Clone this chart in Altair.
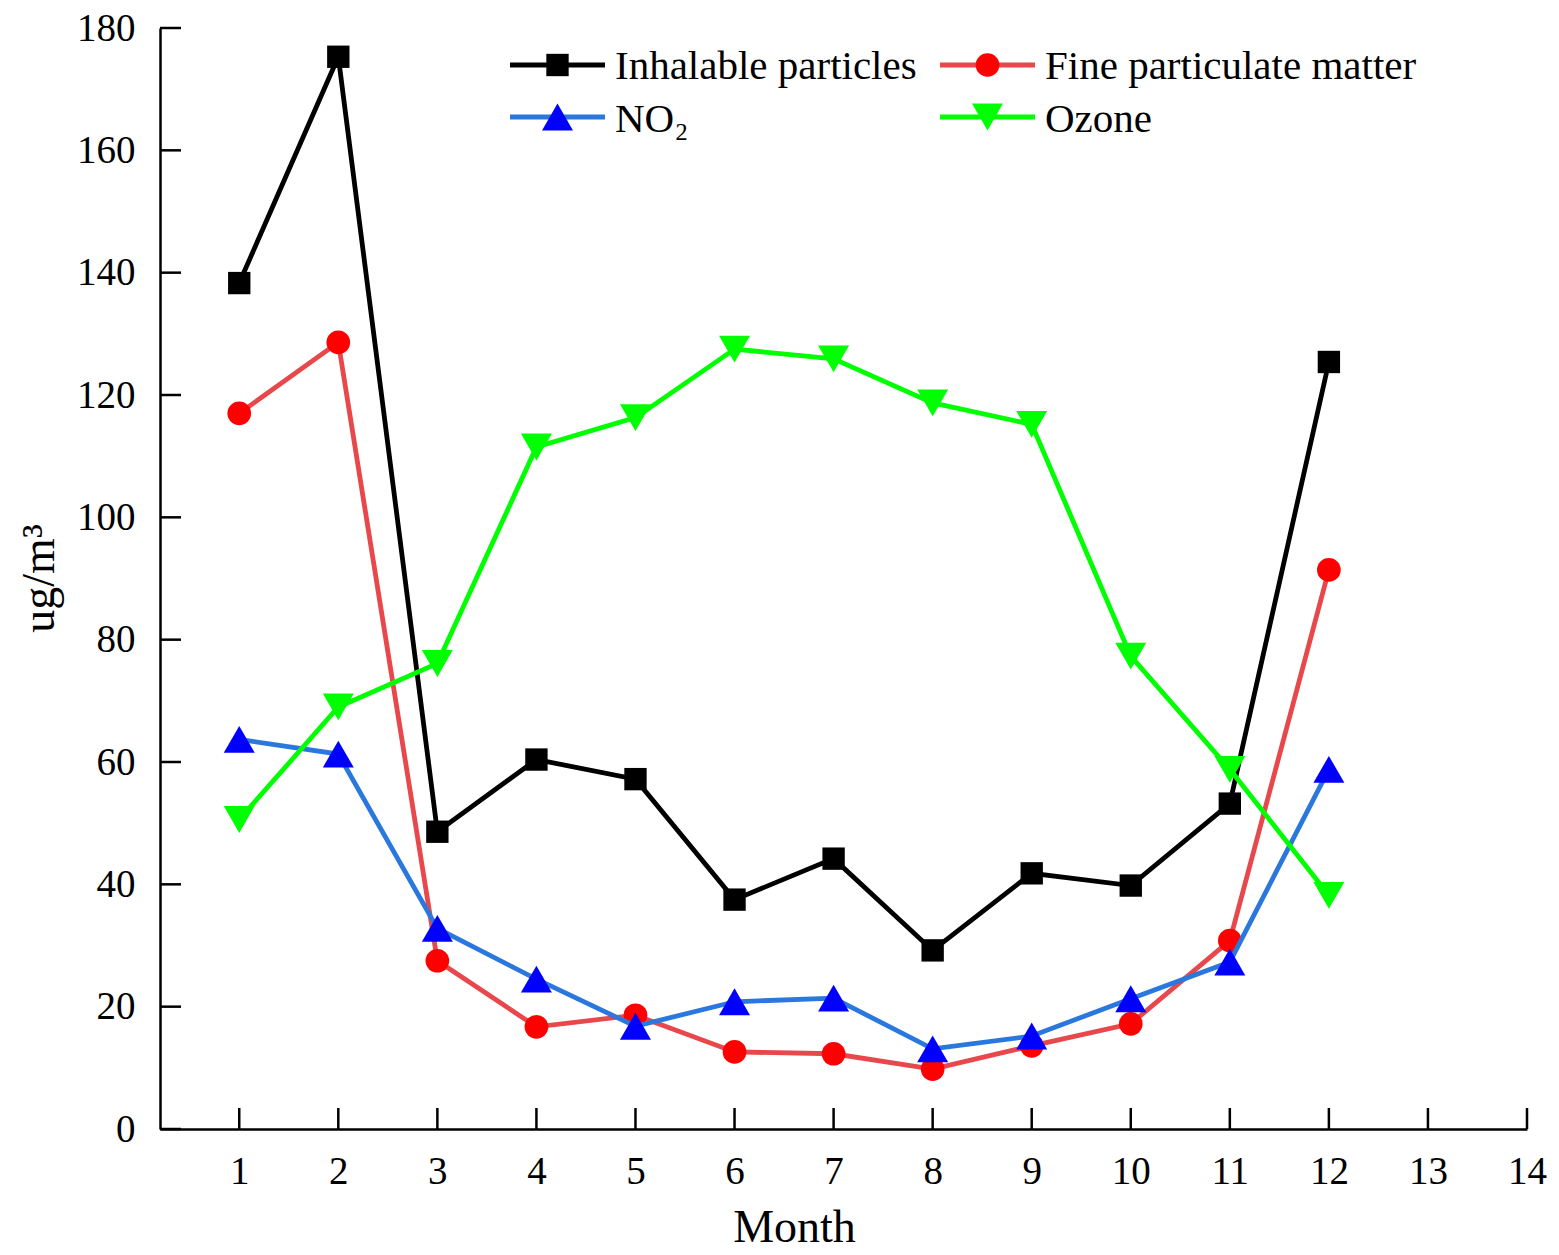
import altair as alt
import pandas as pd

# ---- data ----
months = list(range(1, 13))
inhalable = [138.3, 175.3, 48.6, 60.4, 57.2, 37.5, 44.2, 29.2, 41.8, 39.8, 53.2, 125.4]
fine_pm = [117.0, 128.6, 27.5, 16.7, 18.6, 12.6, 12.3, 9.8, 13.6, 17.2, 30.8, 91.4]
no2 = [63.7, 61.3, 32.8, 24.5, 16.8, 20.8, 21.4, 13.1, 15.2, 21.3, 27.3, 58.8]
ozone = [50.6, 69.0, 76.1, 111.5, 116.3, 127.5, 125.9, 118.7, 115.2, 77.3, 58.8, 38.2]

series_names = ["Inhalable particles", "Fine particulate matter", "NO₂", "Ozone"]
series_values = [inhalable, fine_pm, no2, ozone]
x_ticks = list(range(1, 15))
y_ticks = list(range(0, 181, 20))

# ---- styles ----
line_colors = ["#000000", "#e8474b", "#2a78de", "#00ff00"]
marker_colors = ["#000000", "#ff0000", "#0000ff", "#00ff00"]
shapes = ["square", "circle", "triangle-up", "triangle-down"]
sizes = [500, 560, 960, 960]
FONT = "Liberation Serif"
W, H = 1367, 1101
LW = 4.8

rows = []
for name, vals in zip(series_names, series_values):
    for m, v in zip(months, vals):
        rows.append({"month": m, "value": v, "series": name})
df = pd.DataFrame(rows)

xscale = alt.Scale(domain=[0.2, 14], nice=False, zero=False)
yscale = alt.Scale(domain=[0, 180], nice=False, zero=True)

xaxis = alt.Axis(
    values=x_ticks, title="Month", ticks=False, grid=False,
    labelFont=FONT, labelFontSize=39, labelColor="black", labelPadding=23,
    labelFlush=False, labelOverlap=False, format="d",
    domainColor="black", domainWidth=2.5,
    titleFont=FONT, titleFontSize=46, titleFontWeight="normal", titleColor="black",
    titleX=634, titleY=112, titleBaseline="alphabetic", titleAlign="center",
)
yaxis = alt.Axis(
    values=y_ticks, title="ug/m³", ticks=False, grid=False,
    labelFont=FONT, labelFontSize=39, labelColor="black", labelPadding=25,
    labelFlush=False, labelOverlap=False, format="d",
    domainColor="black", domainWidth=2.5,
    titleFont=FONT, titleFontSize=46, titleFontWeight="normal", titleColor="black",
    titleAngle=-90, titleX=-107, titleY=550, titleBaseline="alphabetic", titleAlign="center",
)

X = alt.X("month:Q", scale=xscale, axis=xaxis)
Y = alt.Y("value:Q", scale=yscale, axis=yaxis)

layers = []

# inward ticks
xt = pd.DataFrame({"month": x_ticks})
yt = pd.DataFrame({"value": y_ticks})
layers.append(
    alt.Chart(xt).mark_rule(color="black", strokeWidth=2.5).encode(
        x=X, y=alt.value(H), y2=alt.value(H - 21)
    )
)
layers.append(
    alt.Chart(yt).mark_rule(color="black", strokeWidth=2.5).encode(
        y=Y, x=alt.value(0), x2=alt.value(21)
    )
)

# data series
for i, name in enumerate(series_names):
    sub = alt.Chart(df).transform_filter(alt.datum.series == name)
    layers.append(
        sub.mark_line(color=line_colors[i], strokeWidth=LW).encode(x=X, y=Y)
    )
    layers.append(
        sub.mark_point(
            shape=shapes[i], size=sizes[i], filled=True, opacity=1,
            color=marker_colors[i], strokeWidth=0,
        ).encode(x=X, y=Y)
    )

# legend (two columns, two rows, inside the plot)
leg_line_x = [(350, 445), (780, 875), (350, 445), (780, 875)]
leg_line_y = [37, 37, 89, 89]
leg_text_x = [455, 885, 455, 885]
leg_text_y = [51, 51, 104, 104]
one = pd.DataFrame({"a": [0]})
for i, name in enumerate(series_names):
    x1, x2 = leg_line_x[i]
    layers.append(
        alt.Chart(one).mark_rule(color=line_colors[i], strokeWidth=LW).encode(
            x=alt.value(x1), x2=alt.value(x2), y=alt.value(leg_line_y[i])
        )
    )
    layers.append(
        alt.Chart(one).mark_point(
            shape=shapes[i], size=sizes[i], filled=True, opacity=1,
            color=marker_colors[i], strokeWidth=0,
        ).encode(x=alt.value((x1 + x2) / 2), y=alt.value(leg_line_y[i]))
    )
    layers.append(
        alt.Chart(one).mark_text(
            text=name, font=FONT, fontSize=41, color="black",
            align="left", baseline="alphabetic",
        ).encode(x=alt.value(leg_text_x[i]), y=alt.value(leg_text_y[i]))
    )

chart = (
    alt.layer(*layers)
    .properties(
        width=W, height=H,
        autosize=alt.AutoSizeParams(type="none"),
        padding={"left": 152, "top": 20, "right": 24, "bottom": 126},
        background="white",
    )
    .configure_view(stroke=None)
)

chart.save("out.html", embed_options={"renderer": "svg", "actions": False})
